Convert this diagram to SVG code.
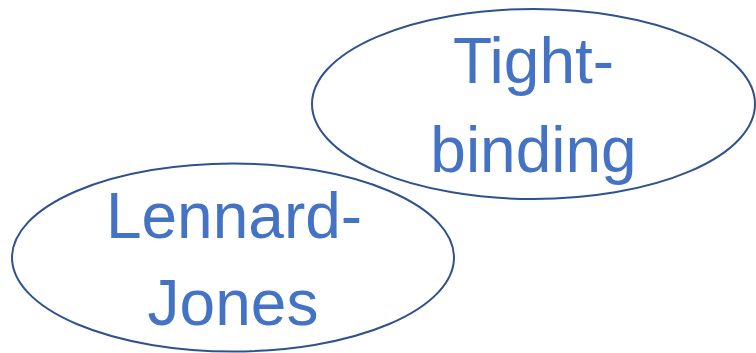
<svg xmlns="http://www.w3.org/2000/svg" width="756" height="353" viewBox="0 0 756 353">
  <style>
    .node ellipse { fill: #ffffff; stroke: #2F528F; stroke-width: 2; }
    .node text { font-family: "Liberation Sans", Arial, sans-serif; font-size: 64px; fill: #4472C4; text-anchor: middle; }
  </style>
  <rect width="756" height="353" fill="#ffffff"/>
  <g id="connectors"></g>
  <g id="tight-binding" class="node">
    <ellipse cx="533.5" cy="104" rx="221.5" ry="95"/>
    <text x="533.5" y="83">Tight-</text>
    <text x="533.5" y="172">binding</text>
  </g>
  <g id="lennard-jones" class="node">
    <ellipse cx="233" cy="257.5" rx="221" ry="94"/>
    <text x="234" y="238">Lennard-</text>
    <text x="233" y="325">Jones</text>
  </g>
</svg>
